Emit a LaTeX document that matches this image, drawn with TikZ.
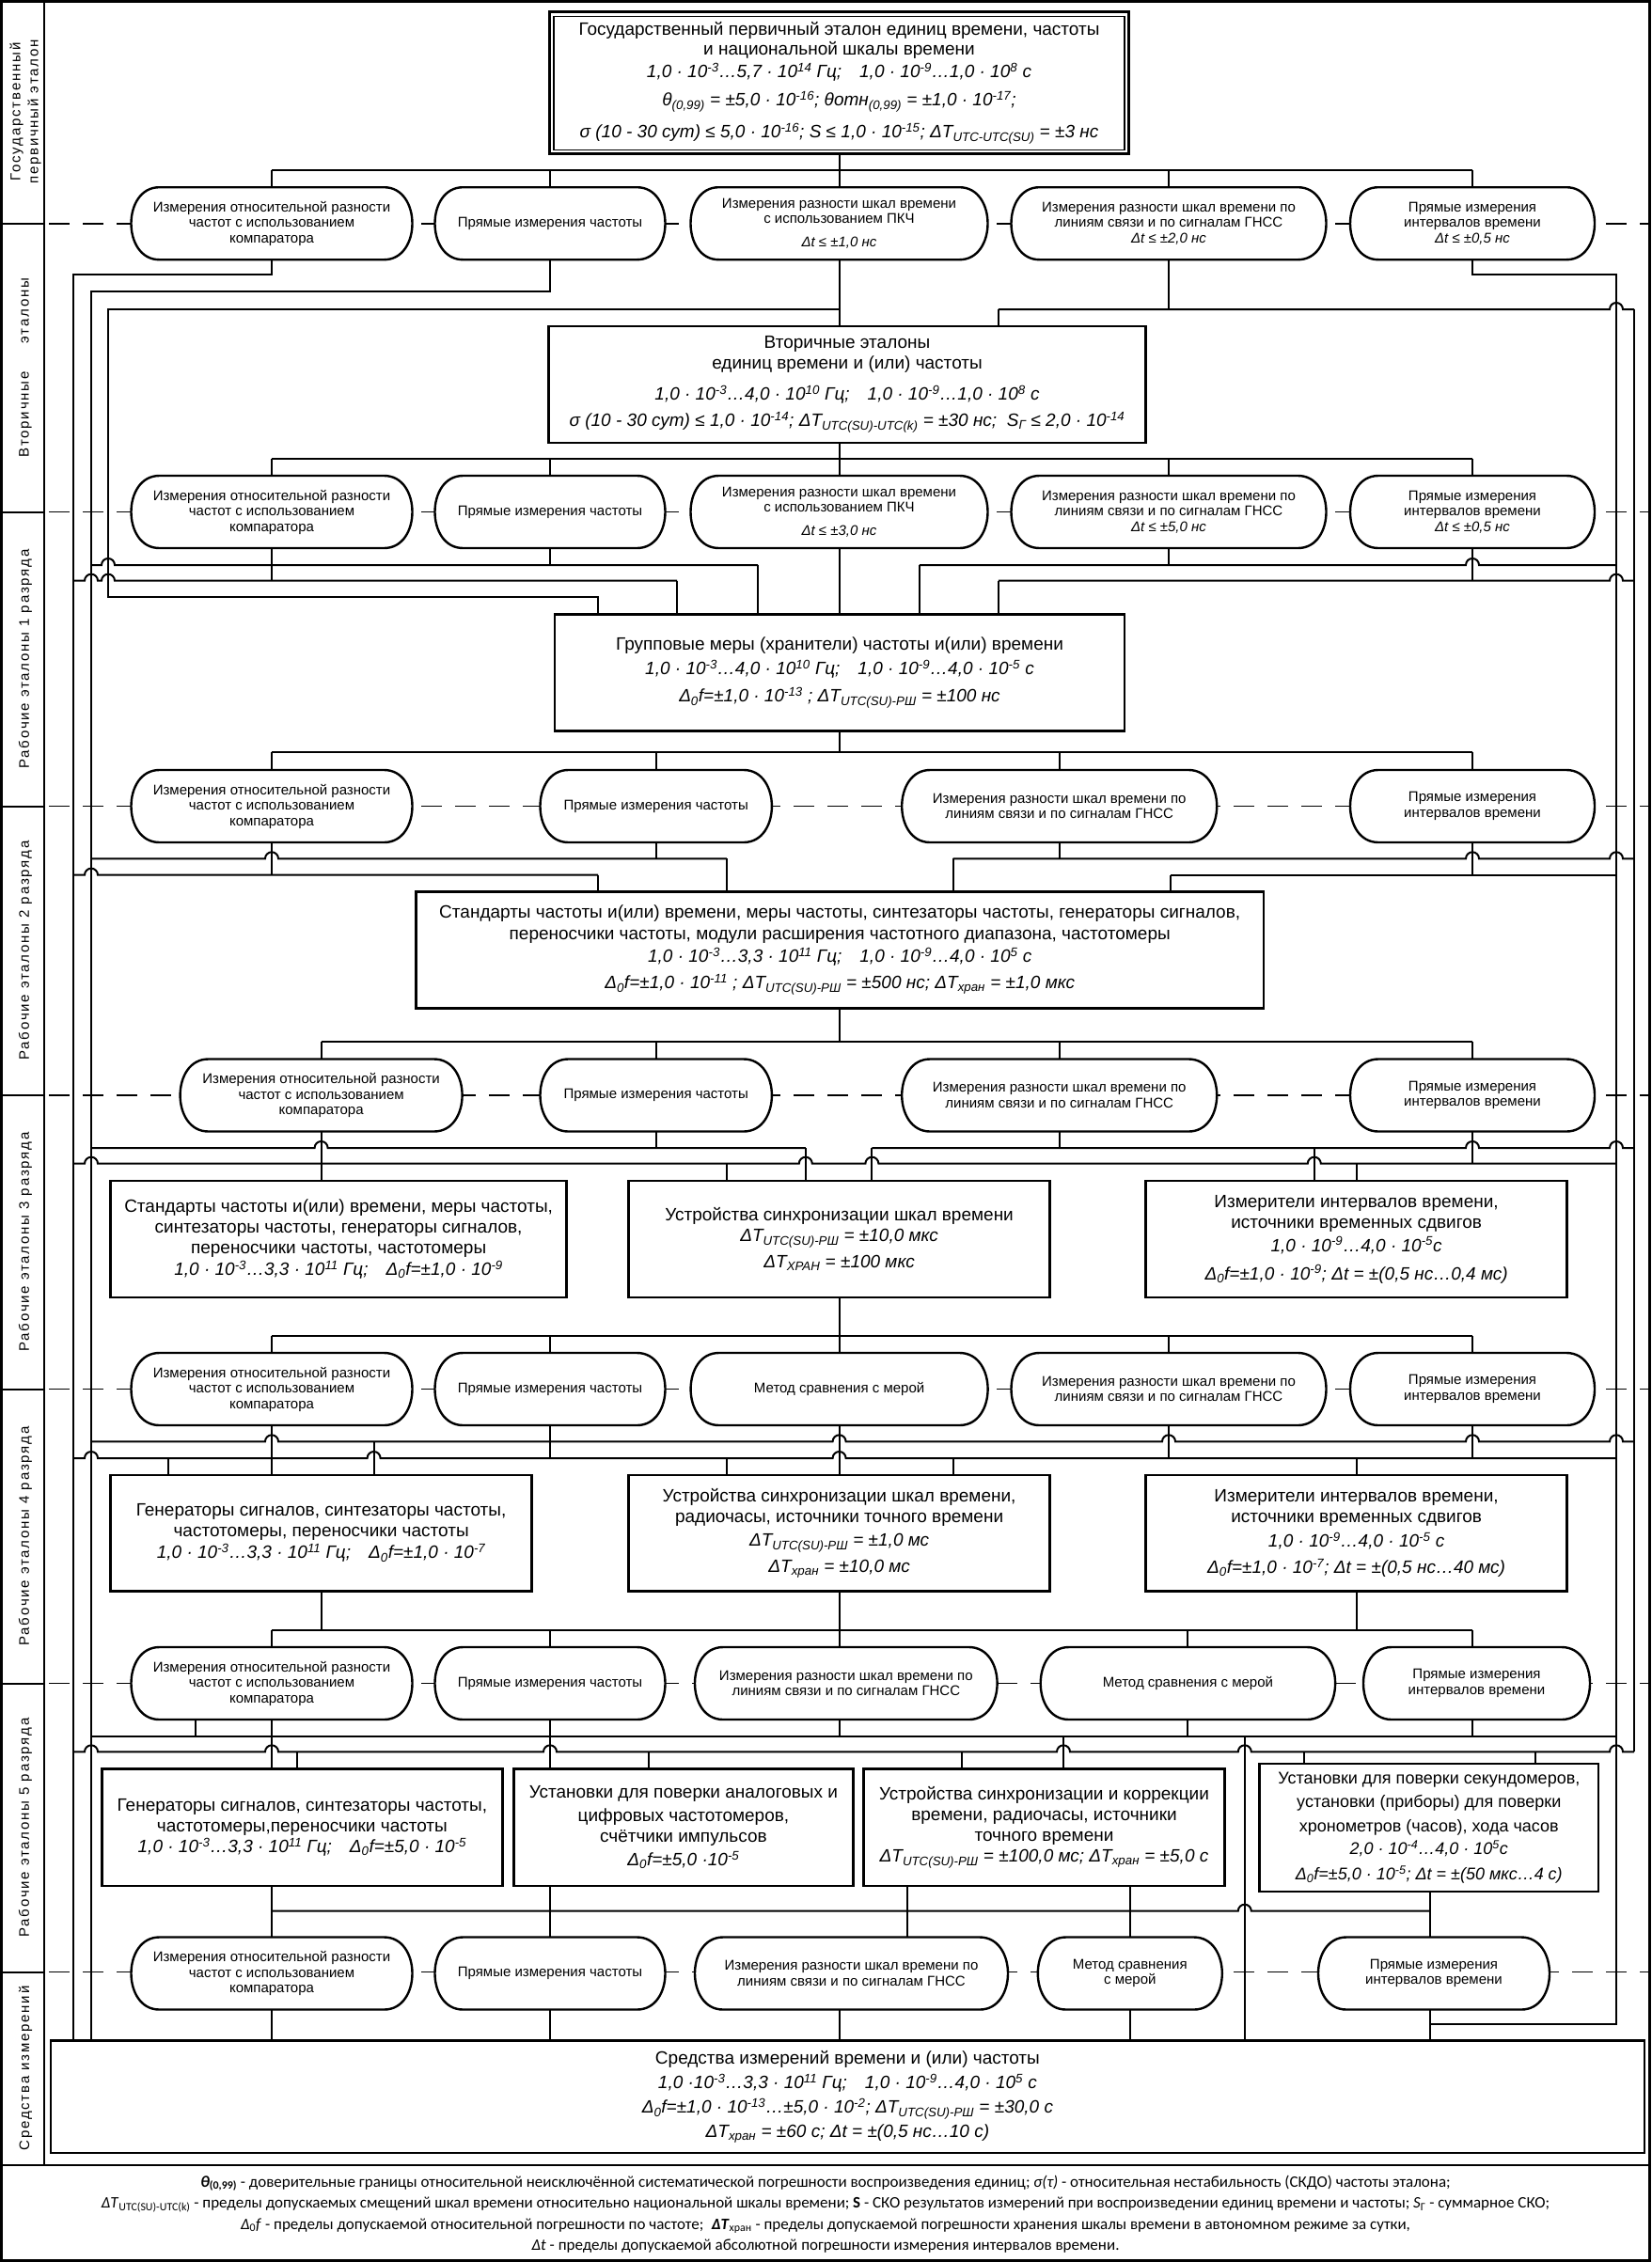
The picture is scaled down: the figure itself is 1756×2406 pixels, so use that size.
\documentclass[tikz,border=0pt]{standalone}
\usepackage{fontspec}
\setmainfont{Liberation Sans}
\newfontfamily\labfont[LetterSpace=12]{Liberation Sans}
\newfontfamily\legfont{Carlito}
\usetikzlibrary{calc}
\pgfdeclarelayer{bg}
\pgfsetlayers{bg,main}
\newcommand{\su}[1]{\textsuperscript{#1}}
\newcommand{\sbs}[1]{\textsubscript{#1}}
\newcommand{\ovl}[5]{%
  \filldraw[ovline] ({#2-#4/2+30},{#3-38.5}) -- ({#2+#4/2-30},{#3-38.5})
    .. controls +(40,0) and +(40,0) .. ({#2+#4/2-30},{#3+38.5})
    -- ({#2-#4/2+30},{#3+38.5})
    .. controls +(-40,0) and +(-40,0) .. ({#2-#4/2+30},{#3-38.5}) -- cycle;
  \node[ovtxt, minimum width=#4, minimum height=77] (#1) at (#2,#3) {#5};}
\newcommand{\hj}[4]{\draw[w] (#2,#1) \foreach \j in {#4} { -- ({\j-7},#1) arc[start angle=180,end angle=0,radius=7pt] } -- (#3,#1);}
\newcommand{\tA}{Измерения относительной разности\\частот с использованием\\компаратора}
\newcommand{\tB}{Прямые измерения частоты}
\newcommand{\tG}{Измерения разности шкал времени по\\линиям связи и по сигналам ГНСС}
\newcommand{\tE}{Прямые измерения\\интервалов времени}
\newcommand{\tM}{Метод сравнения с мерой}
\begin{document}
\begin{tikzpicture}[x=1pt,y=-1pt,
  w/.style={line width=2pt},
  ovline/.style={fill=white, draw=black, line width=2.4pt},
  ovtxt/.style={align=center, inner sep=0pt, font=\fontsize{15}{16.5}\selectfont},
  bx/.style={draw, fill=white, line width=2.6pt, align=center, inner sep=0pt, font=\fontsize{19}{22}\selectfont},
  lab/.style={rotate=90, align=center, font=\labfont\fontsize{15}{19}\selectfont},
  bandsolid/.style={line width=2pt},
  banddash/.style={line width=1.8pt, dash pattern=on 22pt off 14pt},
  legtxt/.style={align=center, inner sep=0pt, font=\legfont\fontsize{17}{22.5}\selectfont}]
\useasboundingbox (0,0) rectangle (1756,2406);

% ================= boxes =================
\node[bx, line width=3pt, minimum width=616, minimum height=151, font=\fontsize{19}{21}\selectfont] (hdr) at (892.5,88.4) {Государственный первичный эталон единиц времени, частоты\\
и национальной шкалы времени\\[3pt]
\itshape 1,0 · 10\su{-3}…5,7 · 10\su{14} Гц;\quad 1,0 · 10\su{-9}…1,0 · 10\su{8} с\\[9pt]
\itshape θ\sbs{(0,99)} = ±5,0 · 10\su{-16}; θотн\sbs{(0,99)} = ±1,0 · 10\su{-17};\\[11pt]
\itshape σ (10 - 30 сут) ≤ 5,0 · 10\su{-16}; S ≤ 1,0 · 10\su{-15}; ΔT\sbs{UTC-UTC(SU)} = ±3 нс};
\draw[line width=1.2pt] ($(hdr.north west)+(6,6)$) rectangle ($(hdr.south east)+(-6,-6)$);

\node[bx, minimum width=635, minimum height=124] (sec) at (901,408.9) {Вторичные эталоны\\
единиц времени и (или) частоты\\[11pt]
\itshape 1,0 · 10\su{-3}…4,0 · 10\su{10} Гц;\quad 1,0 · 10\su{-9}…1,0 · 10\su{8} с\\[6pt]
\itshape σ (10 - 30 сут) ≤ 1,0 · 10\su{-14}; ΔT\sbs{UTC(SU)-UTC(k)} = ±30 нс;\; S\sbs{Г} ≤ 2,0 · 10\su{-14}};

\node[bx, minimum width=606, minimum height=124] (grp) at (893,715.5) {Групповые меры (хранители) частоты и(или) времени\\[4pt]
\itshape 1,0 · 10\su{-3}…4,0 · 10\su{10} Гц;\quad 1,0 · 10\su{-9}…4,0 · 10\su{-5} с\\[7pt]
\itshape Δ\sbs{0}f=±1,0 · 10\su{-13} ; ΔT\sbs{UTC(SU)-РШ} = ±100 нс};

\node[bx, minimum width=901.6, minimum height=124.4] (std2) at (893.2,1010.5) {Стандарты частоты и(или) времени, меры частоты, синтезаторы частоты, генераторы сигналов,\\[1.5pt]
переносчики частоты, модули расширения частотного диапазона, частотомеры\\[2pt]
\itshape 1,0 · 10\su{-3}…3,3 · 10\su{11} Гц;\quad 1,0 · 10\su{-9}…4,0 · 10\su{5} с\\[6pt]
\itshape Δ\sbs{0}f=±1,0 · 10\su{-11} ; ΔT\sbs{UTC(SU)-РШ} = ±500 нс; ΔT\sbs{хран} = ±1,0 мкс};

\node[bx, minimum width=485, minimum height=124] (s3l) at (360.1,1318) {Стандарты частоты и(или) времени, меры частоты,\\синтезаторы частоты, генераторы сигналов,\\переносчики частоты, частотомеры\\[1pt]\itshape 1,0 · 10\su{-3}…3,3 · 10\su{11} Гц;\quad Δ\sbs{0}f=±1,0 · 10\su{-9}};
\node[bx, minimum width=448, minimum height=124] (s3m) at (892.6,1318) {Устройства синхронизации шкал времени\\\itshape ΔT\sbs{UTC(SU)-РШ} = ±10,0 мкс\\[6pt]\itshape ΔT\sbs{ХРАН} = ±100 мкс};
\node[bx, minimum width=448, minimum height=124] (s3r) at (1442.6,1318) {Измерители интервалов времени,\\источники временных сдвигов\\[3pt]\itshape 1,0 · 10\su{-9}…4,0 · 10\su{-5}с\\[8pt]\itshape Δ\sbs{0}f=±1,0 · 10\su{-9}; Δt = ±(0,5 нс…0,4 мс)};

\node[bx, minimum width=448, minimum height=123.7] (s4l) at (341.6,1630.8) {Генераторы сигналов, синтезаторы частоты,\\частотомеры, переносчики частоты\\[1pt]\itshape 1,0 · 10\su{-3}…3,3 · 10\su{11} Гц;\quad Δ\sbs{0}f=±1,0 · 10\su{-7}};
\node[bx, minimum width=448, minimum height=123.7] (s4m) at (892.6,1630.8) {Устройства синхронизации шкал времени,\\радиочасы, источники точного времени\\[3pt]\itshape ΔT\sbs{UTC(SU)-РШ} = ±1,0 мс\\[6pt]\itshape ΔT\sbs{хран} = ±10,0 мс};
\node[bx, minimum width=448, minimum height=123.7] (s4r) at (1442.6,1630.8) {Измерители интервалов времени,\\источники временных сдвигов\\[4pt]\itshape 1,0 · 10\su{-9}…4,0 · 10\su{-5} с\\[6pt]\itshape Δ\sbs{0}f=±1,0 · 10\su{-7}; Δt = ±(0,5 нс…40 мс)};

\node[bx, minimum width=425.6, minimum height=124.3] (s5a) at (321.4,1943.8) {Генераторы сигналов, синтезаторы частоты,\\частотомеры,переносчики частоты\\\itshape 1,0 · 10\su{-3}…3,3 · 10\su{11} Гц;\quad Δ\sbs{0}f=±5,0 · 10\su{-5}};
\node[bx, minimum width=360.6, minimum height=124.3] (s5b) at (726.9,1943.8) {Установки для поверки аналоговых и\\[3pt]цифровых частотомеров,\\счётчики импульсов\\[3pt]\itshape Δ\sbs{0}f=±5,0 ·10\su{-5}};
\node[bx, minimum width=384.2, minimum height=124.3] (s5c) at (1110.5,1943.8) {Устройства синхронизации и коррекции\\времени, радиочасы, источники\\точного времени\\\itshape ΔT\sbs{UTC(SU)-РШ} = ±100,0 мс; ΔT\sbs{хран} = ±5,0 с};
\node[bx, minimum width=360.5, minimum height=136, font=\fontsize{18}{21}\selectfont] (s5d) at (1519.8,1944) {Установки для поверки секундомеров,\\[4pt]установки (приборы) для поверки\\[5pt]хронометров (часов), хода часов\\[3pt]\itshape 2,0 · 10\su{-4}…4,0 · 10\su{5}с\\[6pt]\itshape Δ\sbs{0}f=±5,0 · 10\su{-5}; Δt = ±(50 мкс…4 с)};

\node[bx, minimum width=1695, minimum height=119.3] (means) at (901.4,2230.4) {Средства измерений времени и (или) частоты\\[4pt]\itshape 1,0 ·10\su{-3}…3,3 · 10\su{11} Гц;\quad 1,0 · 10\su{-9}…4,0 · 10\su{5} с\\[4pt]\itshape Δ\sbs{0}f=±1,0 · 10\su{-13}…±5,0 · 10\su{-2}; ΔT\sbs{UTC(SU)-РШ} = ±30,0 с\\[4pt]\itshape ΔT\sbs{хран} = ±60 с; Δt = ±(0,5 нс…10 с)};

% ================= ovals =================
\ovl{A1}{289}{237.7}{299}{\tA}
\ovl{B1}{585}{237.7}{245}{\tB}
\ovl{C1}{892.5}{237.7}{316}{Измерения разности шкал времени\\с использованием ПКЧ\\[8pt]\itshape Δt ≤ ±1,0 нс}
\ovl{D1}{1243}{237.7}{335}{\tG\\\itshape Δt ≤ ±2,0 нс}
\ovl{E1}{1566}{237.7}{260}{\tE\\\itshape Δt ≤ ±0,5 нс}

\ovl{A2}{289}{544.5}{299}{\tA}
\ovl{B2}{585}{544.5}{245}{\tB}
\ovl{C2}{892.5}{544.5}{316}{Измерения разности шкал времени\\с использованием ПКЧ\\[8pt]\itshape Δt ≤ ±3,0 нс}
\ovl{D2}{1243}{544.5}{335}{\tG\\\itshape Δt ≤ ±5,0 нс}
\ovl{E2}{1566}{544.5}{260}{\tE\\\itshape Δt ≤ ±0,5 нс}

\ovl{A3}{289}{857.5}{299}{\tA}
\ovl{B3}{697.7}{857.5}{246.4}{\tB}
\ovl{D3}{1126.7}{857.5}{335}{\tG}
\ovl{E3}{1566}{857.5}{260}{\tE}

\ovl{A4}{341.6}{1165}{300}{\tA}
\ovl{B4}{697.7}{1165}{246.4}{\tB}
\ovl{D4}{1126.7}{1165}{335}{\tG}
\ovl{E4}{1566}{1165}{260}{\tE}

\ovl{A5}{289}{1477.5}{299}{\tA}
\ovl{B5}{585}{1477.5}{245}{\tB}
\ovl{C5}{892.6}{1477.5}{316}{\tM}
\ovl{D5}{1243}{1477.5}{335}{\tG}
\ovl{E5}{1566}{1477.5}{260}{\tE}

\ovl{A6}{289}{1790.5}{299}{\tA}
\ovl{B6}{585}{1790.5}{245}{\tB}
\ovl{C6}{899.8}{1790.5}{321.6}{\tG}
\ovl{D6}{1263.4}{1790.5}{313.4}{\tM}
\ovl{E6}{1570.5}{1790.5}{241}{\tE}

\ovl{A7}{289}{2099}{299}{\tA}
\ovl{B7}{585}{2099}{245}{\tB}
\ovl{C7}{905.5}{2099}{333}{\tG}
\ovl{D7}{1201.8}{2099}{196}{Метод сравнения\\с мерой}
\ovl{E7}{1525}{2099}{246}{\tE}

% ================= background: bands + wiring =================
\begin{pgfonlayer}{bg}
\fill[white] (0,0) rectangle (1756,2406);
\foreach \yy in {237.7,544.5,857.5,1165,1477.5,1790.5,2097.5} {
  \draw[bandsolid] (0,\yy) -- (47,\yy);
  \draw[banddash] (52,\yy) -- (1756,\yy);
}
% band 0 -> row 1
\draw[w] (hdr.south) -- (892.5,181);
\draw[w] (289,181) -- (1566,181);
\foreach \n in {A1,B1,C1,D1,E1} \draw[w] (\n.north) -- (\n.north |- 0,181);
% row 1 -> secondary + long buses
\draw[w] (A1.south) |- (78,292) -- (78,0 |- means.north);
\draw[w] (B1.south) |- (97,310) -- (97,0 |- means.north);
\draw[w] (E1.south) |- (1719,292) -- (1719,2152.7) -- (1521,2152.7);
\draw[w] (C1.south) -- (C1.south |- sec.north);
\draw[w] (892.5,329) -- (115,329) -- (115,635) -- (636,635) -- (636,0 |- grp.north);
\draw[w] (D1.south) -- (1243,329);
\hj{329}{1061.8}{1738}{1719}
\draw[w] (1061.8,329) -- (1061.8,0 |- sec.north);
\draw[w] (1738,329) -- (1738,1863.3);
% secondary -> row 2
\draw[w] (sec.south -| C2.north) -- (C2.north |- 0,487.7);
\draw[w] (289,487.7) -- (1566,487.7);
\foreach \n in {A2,B2,C2,D2,E2} \draw[w] (\n.north) -- (\n.north |- 0,487.7);
% row 2 -> group
\hj{601}{97}{806}{115}
\draw[w] (B2.south) -- (585,601);
\draw[w] (806,601) -- (806,0 |- grp.north);
\hj{617.7}{78}{720}{97,115}
\draw[w] (A2.south) -- (289,617.7);
\draw[w] (720,617.7) -- (720,0 |- grp.north);
\draw[w] (C2.south) -- (C2.south |- grp.north);
\hj{601}{977.8}{1719}{1566}
\draw[w] (D2.south) -- (1243,601);
\draw[w] (977.8,601) -- (977.8,0 |- grp.north);
\draw[w] (E2.south) -- (1566,617.7);
\hj{617.7}{1061.8}{1738}{1719}
\draw[w] (1061.8,617.7) -- (1061.8,0 |- grp.north);
% group -> row 3
\draw[w] (grp.south) -- (grp.south |- 0,800.3);
\draw[w] (289,800.3) -- (1566,800.3);
\foreach \n in {A3,B3,D3,E3} \draw[w] (\n.north) -- (\n.north |- 0,800.3);
% row 3 -> std2
\hj{913.3}{97}{772.8}{289}
\draw[w] (B3.south) -- (697.7,913.3);
\draw[w] (772.8,913.3) -- (772.8,0 |- std2.north);
\hj{930.7}{78}{636}{97}
\draw[w] (A3.south) -- (289,930.7);
\draw[w] (636,930.7) -- (636,0 |- std2.north);
\hj{913.3}{1013.6}{1738}{1566,1719}
\draw[w] (D3.south) -- (1126.7,913.3);
\draw[w] (1013.6,913.3) -- (1013.6,0 |- std2.north);
\draw[w] (1245.4,930.7) -- (1719,930.7);
\draw[w] (E3.south) -- (1566,930.7);
\draw[w] (1245.4,930.7) -- (1245.4,0 |- std2.north);
% std2 -> row 4
\draw[w] (std2.south) -- (std2.south |- 0,1108.3);
\draw[w] (341.6,1108.3) -- (1566,1108.3);
\foreach \n in {A4,B4,D4,E4} \draw[w] (\n.north) -- (\n.north |- 0,1108.3);
% row 4 -> rank 3 boxes
\hj{1221}{97}{856.8}{341.6}
\draw[w] (B4.south) -- (697.7,1221);
\draw[w] (856.8,1221) -- (856.8,0 |- s3m.north);
\hj{1221}{927.4}{1738}{1566,1719}
\draw[w] (D4.south) -- (1126.7,1221);
\draw[w] (927.4,1221) -- (927.4,0 |- s3m.north);
\draw[w] (1397.8,1221) -- (1397.8,0 |- s3r.north);
\hj{1237.7}{78}{1719}{97,856.8,927.4,1397.8}
\draw[w] (A4.south) -- (A4.south |- s3l.north);
\draw[w] (E4.south) -- (1566,1237.7);
\draw[w] (772.8,1237.7) -- (772.8,0 |- s3m.north);
\draw[w] (1442.6,1237.7) -- (1442.6,0 |- s3r.north);
% rank 3 -> row 5
\draw[w] (s3m.south) -- (s3m.south |- 0,1421);
\draw[w] (289,1421) -- (1566,1421);
\foreach \n in {A5,B5,C5,D5,E5} \draw[w] (\n.north) -- (\n.north |- 0,1421);
% row 5 -> rank 4 boxes
\hj{1533.3}{97}{1738}{289,892.6,1243,1566,1719}
\draw[w] (397.6,1533.3) -- (397.6,0 |- s4l.north);
\hj{1551}{78}{1719}{97,397.6,892.6}
\draw[w] (A5.south) -- (A5.south |- s4l.north);
\draw[w] (B5.south) -- (585,1551);
\draw[w] (C5.south) -- (C5.south |- s4m.north);
\draw[w] (D5.south) -- (1243,1551);
\draw[w] (E5.south) -- (1566,1551);
\draw[w] (179,1551) -- (179,0 |- s4l.north);
\draw[w] (772.8,1551) -- (772.8,0 |- s4m.north);
\draw[w] (1013.6,1551) -- (1013.6,0 |- s4m.north);
\draw[w] (1442.6,1551) -- (1442.6,0 |- s4r.north);
% rank 4 -> row 6
\draw[w] (s4l.south) -- (s4l.south |- 0,1734.3);
\draw[w] (s4m.south) -- (s4m.south |- 0,1734.3);
\draw[w] (s4r.south) -- (s4r.south |- 0,1734.3);
\draw[w] (289,1734.3) -- (1566,1734.3);
\draw[w] (A6.north) -- (A6.north |- 0,1734.3);
\draw[w] (B6.north) -- (B6.north |- 0,1734.3);
\draw[w] (892.6,0 |- C6.north) -- (892.6,1734.3);
\draw[w] (D6.north) -- (D6.north |- 0,1734.3);
\draw[w] (1566,0 |- E6.north) -- (1566,1734.3);
% row 6 -> rank 5 boxes
\draw[w] (97,1846.7) -- (1719,1846.7);
\draw[w] (208,0 |- A6.south) -- (208,1846.7);
\draw[w] (A6.south) -- (A6.south |- s5a.north);
\draw[w] (B6.south) -- (B6.south |- s5b.north);
\draw[w] (892.6,0 |- C6.south) -- (892.6,1846.7);
\draw[w] (D6.south) -- (1263.4,1846.7);
\draw[w] (1566,0 |- E6.south) -- (1566,1846.7);
\draw[w] (1131,1846.7) -- (1131,0 |- s5c.north);
\draw[w] (1323.8,1846.7) -- (1323.8,0 |- means.north);
\hj{1863.3}{78}{1738}{97,289,585,1131,1323.8,1719}
\draw[w] (316,1863.3) -- (316,0 |- s5a.north);
\draw[w] (690,1863.3) -- (690,0 |- s5b.north);
\draw[w] (1022.6,1863.3) -- (1022.6,0 |- s5c.north);
\draw[w] (1386.6,1863.3) -- (1386.6,0 |- s5d.north);
\draw[w] (1633,1863.3) -- (1633,0 |- s5d.north);
% rank 5 -> row 7
\draw[w] (289,0 |- s5a.south) -- (289,0 |- A7.north);
\draw[w] (585,0 |- s5b.south) -- (585,0 |- B7.north);
\draw[w] (965.4,0 |- s5c.south) -- (965.4,0 |- C7.north);
\draw[w] (1201.8,0 |- s5c.south) -- (1201.8,0 |- D7.north);
\draw[w] (1521,0 |- s5d.south) -- (1521,0 |- E7.north);
\hj{2032.7}{289}{1521}{1323.8}
% row 7 -> means
\draw[w] (A7.south) -- (A7.south |- means.north);
\draw[w] (B7.south) -- (B7.south |- means.north);
\draw[w] (892.6,0 |- C7.south) -- (892.6,0 |- means.north);
\draw[w] (D7.south) -- (D7.south |- means.north);
\draw[w] (1521,0 |- E7.south) -- (1521,0 |- means.north);
\end{pgfonlayer}

% ================= left labels, frame, legend =================
\draw[line width=2pt] (47,0) -- (47,2303);
\draw[line width=2.4pt] (0,2303) -- (1756,2303);
\node[lab] (lab0) at (27,119) {Государственный\\первичный эталон};
\node[lab] (lab1) at (27,391) {Вторичные\qquad эталоны};
\node[lab] (lab2) at (27,701) {Рабочие эталоны 1 разряда};
\node[lab] (lab3) at (27,1011) {Рабочие эталоны 2 разряда};
\node[lab] (lab4) at (27,1321) {Рабочие эталоны 3 разряда};
\node[lab] (lab5) at (27,1634) {Рабочие эталоны 4 разряда};
\node[lab] (lab6) at (27,1944) {Рабочие эталоны 5 разряда};
\node[lab] (lab7) at (27,2200) {Средства измерений};
\node[legtxt] (leg) at (878,2355) {\textbf{\textit{θ}\sbs{(0,99)}} - доверительные границы относительной неисключённой систематической погрешности воспроизведения единиц; \textit{σ(τ)} - относительная нестабильность (СКДО) частоты эталона;\\
\textit{ΔT}\sbs{UTC(SU)-UTC(k)} - пределы допускаемых смещений шкал времени относительно национальной шкалы времени; \textbf{S} - СКО результатов измерений при воспроизведении единиц времени и частоты; \textit{S}\sbs{Г} - суммарное СКО;\\
\textit{Δ}\sbs{0}\textit{f} - пределы допускаемой относительной погрешности по частоте;\enspace \textbf{\textit{ΔT}}\sbs{хран} - пределы допускаемой погрешности хранения шкалы времени в автономном режиме за сутки,\\
\textit{Δt} - пределы допускаемой абсолютной погрешности измерения интервалов времени.};
\draw[line width=3pt] (1.5,1.5) rectangle (1754.5,2404.5);
\end{tikzpicture}
\end{document}
